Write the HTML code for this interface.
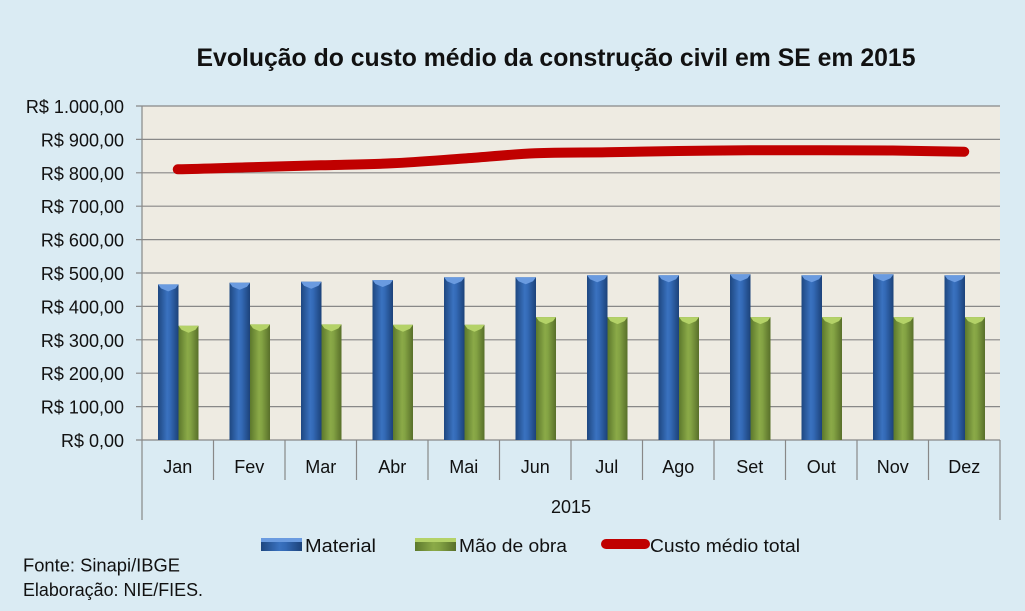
<!DOCTYPE html>
<html><head><meta charset="utf-8"><style>
html,body{margin:0;padding:0;background:#DAEBF3;}
svg{display:block;}
text{font-family:"Liberation Sans",Arial,sans-serif;fill:#111;}
</style></head><body>
<svg width="1025" height="611" viewBox="0 0 1025 611" xmlns="http://www.w3.org/2000/svg">
<defs>
<linearGradient id="gb" x1="0" y1="0" x2="1" y2="0">
<stop offset="0" stop-color="#1E4780"/><stop offset="0.45" stop-color="#3A72C0"/><stop offset="0.6" stop-color="#3369B5"/><stop offset="1" stop-color="#1C4279"/>
</linearGradient>
<linearGradient id="gg" x1="0" y1="0" x2="1" y2="0">
<stop offset="0" stop-color="#5C782C"/><stop offset="0.45" stop-color="#8BAA48"/><stop offset="0.6" stop-color="#83A243"/><stop offset="1" stop-color="#586F2A"/>
</linearGradient>
</defs>
<rect width="1025" height="611" fill="#DAEBF3"/>
<text x="556" y="66" font-size="25" font-weight="bold" text-anchor="middle" textLength="719" lengthAdjust="spacingAndGlyphs">Evolução do custo médio da construção civil em SE em 2015</text>
<rect x="142" y="106" width="858" height="334" fill="#EEEBE2"/>
<g stroke="#888" stroke-width="1.2">
<line x1="136" y1="106" x2="1000" y2="106"/>
<line x1="136" y1="139.4" x2="1000" y2="139.4"/>
<line x1="136" y1="172.8" x2="1000" y2="172.8"/>
<line x1="136" y1="206.2" x2="1000" y2="206.2"/>
<line x1="136" y1="239.6" x2="1000" y2="239.6"/>
<line x1="136" y1="273" x2="1000" y2="273"/>
<line x1="136" y1="306.4" x2="1000" y2="306.4"/>
<line x1="136" y1="339.8" x2="1000" y2="339.8"/>
<line x1="136" y1="373.2" x2="1000" y2="373.2"/>
<line x1="136" y1="406.6" x2="1000" y2="406.6"/>
<line x1="136" y1="440" x2="1000" y2="440"/>
<line x1="142" y1="106" x2="142" y2="520"/>
<line x1="1000" y1="440" x2="1000" y2="520"/>
<line x1="213.5" y1="440" x2="213.5" y2="480"/>
<line x1="285" y1="440" x2="285" y2="480"/>
<line x1="356.5" y1="440" x2="356.5" y2="480"/>
<line x1="428" y1="440" x2="428" y2="480"/>
<line x1="499.5" y1="440" x2="499.5" y2="480"/>
<line x1="571" y1="440" x2="571" y2="480"/>
<line x1="642.5" y1="440" x2="642.5" y2="480"/>
<line x1="714" y1="440" x2="714" y2="480"/>
<line x1="785.5" y1="440" x2="785.5" y2="480"/>
<line x1="857" y1="440" x2="857" y2="480"/>
<line x1="928.5" y1="440" x2="928.5" y2="480"/>
</g>
<g font-size="18" text-anchor="end">
<text x="124" y="113">R$ 1.000,00</text>
<text x="124" y="146.4">R$ 900,00</text>
<text x="124" y="179.8">R$ 800,00</text>
<text x="124" y="213.2">R$ 700,00</text>
<text x="124" y="246.6">R$ 600,00</text>
<text x="124" y="280">R$ 500,00</text>
<text x="124" y="313.4">R$ 400,00</text>
<text x="124" y="346.8">R$ 300,00</text>
<text x="124" y="380.2">R$ 200,00</text>
<text x="124" y="413.6">R$ 100,00</text>
<text x="124" y="447">R$ 0,00</text>
</g>
<g font-size="18" text-anchor="middle">
<text x="177.75" y="473">Jan</text>
<text x="249.25" y="473">Fev</text>
<text x="320.75" y="473">Mar</text>
<text x="392.25" y="473">Abr</text>
<text x="463.75" y="473">Mai</text>
<text x="535.25" y="473">Jun</text>
<text x="606.75" y="473">Jul</text>
<text x="678.25" y="473">Ago</text>
<text x="749.75" y="473">Set</text>
<text x="821.25" y="473">Out</text>
<text x="892.75" y="473">Nov</text>
<text x="964.25" y="473">Dez</text>
<text x="571" y="513">2015</text>
</g>
<!-- Material bars -->
<g fill="url(#gb)">
<rect x="158" y="284.4" width="20.5" height="155.6"/>
<rect x="229.5" y="282.7" width="20.5" height="157.3"/>
<rect x="301" y="281.7" width="20.5" height="158.3"/>
<rect x="372.5" y="280" width="20.5" height="160"/>
<rect x="444" y="277.3" width="20.5" height="162.7"/>
<rect x="515.5" y="277.3" width="20.5" height="162.7"/>
<rect x="587" y="275.3" width="20.5" height="164.7"/>
<rect x="658.5" y="275.3" width="20.5" height="164.7"/>
<rect x="730" y="274.3" width="20.5" height="165.7"/>
<rect x="801.5" y="275.3" width="20.5" height="164.7"/>
<rect x="873" y="274.3" width="20.5" height="165.7"/>
<rect x="944.5" y="275.3" width="20.5" height="164.7"/>
</g>
<g fill="#6A9BE0">
<polygon points="158,284.4 178.5,284.4 175.5,288.4 168.25,291.4 161,288.4"/>
<polygon points="229.5,282.7 250,282.7 247,286.7 239.75,289.7 232.5,286.7"/>
<polygon points="301,281.7 321.5,281.7 318.5,285.7 311.25,288.7 304,285.7"/>
<polygon points="372.5,280 393,280 390,284 382.75,287 375.5,284"/>
<polygon points="444,277.3 464.5,277.3 461.5,281.3 454.25,284.3 447,281.3"/>
<polygon points="515.5,277.3 536,277.3 533,281.3 525.75,284.3 518.5,281.3"/>
<polygon points="587,275.3 607.5,275.3 604.5,279.3 597.25,282.3 590,279.3"/>
<polygon points="658.5,275.3 679,275.3 676,279.3 668.75,282.3 661.5,279.3"/>
<polygon points="730,274.3 750.5,274.3 747.5,278.3 740.25,281.3 733,278.3"/>
<polygon points="801.5,275.3 822,275.3 819,279.3 811.75,282.3 804.5,279.3"/>
<polygon points="873,274.3 893.5,274.3 890.5,278.3 883.25,281.3 876,278.3"/>
<polygon points="944.5,275.3 965,275.3 962,279.3 954.75,282.3 947.5,279.3"/>
</g>
<!-- Labor bars -->
<g fill="url(#gg)">
<rect x="178.5" y="325.8" width="20" height="114.2"/>
<rect x="250" y="324.4" width="20" height="115.6"/>
<rect x="321.5" y="324.4" width="20" height="115.6"/>
<rect x="393" y="324.8" width="20" height="115.2"/>
<rect x="464.5" y="324.8" width="20" height="115.2"/>
<rect x="536" y="317.1" width="20" height="122.9"/>
<rect x="607.5" y="317.1" width="20" height="122.9"/>
<rect x="679" y="317.1" width="20" height="122.9"/>
<rect x="750.5" y="317.1" width="20" height="122.9"/>
<rect x="822" y="317.1" width="20" height="122.9"/>
<rect x="893.5" y="317.1" width="20" height="122.9"/>
<rect x="965" y="317.1" width="20" height="122.9"/>
</g>
<g fill="#B4D268">
<polygon points="178.5,325.8 198.5,325.8 195.5,329.8 188.5,332.8 181.5,329.8"/>
<polygon points="250,324.4 270,324.4 267,328.4 260,331.4 253,328.4"/>
<polygon points="321.5,324.4 341.5,324.4 338.5,328.4 331.5,331.4 324.5,328.4"/>
<polygon points="393,324.8 413,324.8 410,328.8 403,331.8 396,328.8"/>
<polygon points="464.5,324.8 484.5,324.8 481.5,328.8 474.5,331.8 467.5,328.8"/>
<polygon points="536,317.1 556,317.1 553,321.1 546,324.1 539,321.1"/>
<polygon points="607.5,317.1 627.5,317.1 624.5,321.1 617.5,324.1 610.5,321.1"/>
<polygon points="679,317.1 699,317.1 696,321.1 689,324.1 682,321.1"/>
<polygon points="750.5,317.1 770.5,317.1 767.5,321.1 760.5,324.1 753.5,321.1"/>
<polygon points="822,317.1 842,317.1 839,321.1 832,324.1 825,321.1"/>
<polygon points="893.5,317.1 913.5,317.1 910.5,321.1 903.5,324.1 896.5,321.1"/>
<polygon points="965,317.1 985,317.1 982,321.1 975,324.1 968,321.1"/>
</g>
<!-- Total line -->
<path d="M177.75,169.3 C201.58,168.97 225.42,167.97 249.25,167.3 C273.08,166.63 296.92,165.97 320.75,165.3 C344.58,164.63 368.42,164.43 392.25,163.3 C416.08,162.17 439.92,160.17 463.75,158.5 C487.58,156.83 511.42,154.33 535.25,153.3 C559.08,152.27 582.92,152.68 606.75,152.3 C630.58,151.92 654.42,151.33 678.25,151 C702.08,150.67 725.92,150.42 749.75,150.3 C773.58,150.18 797.42,150.27 821.25,150.3 C845.08,150.33 868.92,150.27 892.75,150.5 C916.58,150.73 940.42,151.5 964.25,151.7" fill="none" stroke="#C00000" stroke-width="10" stroke-linecap="round" stroke-linejoin="round"/>
<!-- Legend -->
<rect x="261" y="538" width="41" height="13" fill="url(#gb)"/>
<rect x="261" y="538" width="41" height="4" fill="#6A9BE0"/>
<text x="305" y="552" font-size="18" textLength="71" lengthAdjust="spacingAndGlyphs">Material</text>
<rect x="415" y="538" width="41" height="13" fill="url(#gg)"/>
<rect x="415" y="538" width="41" height="4" fill="#B4D268"/>
<text x="459" y="552" font-size="18" textLength="108" lengthAdjust="spacingAndGlyphs">Mão de obra</text>
<line x1="606" y1="544" x2="645" y2="544" stroke="#C00000" stroke-width="10" stroke-linecap="round"/>
<text x="650" y="552" font-size="18" textLength="150" lengthAdjust="spacingAndGlyphs">Custo médio total</text>
<text x="23" y="571.5" font-size="18" textLength="157" lengthAdjust="spacingAndGlyphs">Fonte: Sinapi/IBGE</text>
<text x="23" y="596" font-size="18" textLength="180" lengthAdjust="spacingAndGlyphs">Elaboração: NIE/FIES.</text>
</svg>
</body></html>
